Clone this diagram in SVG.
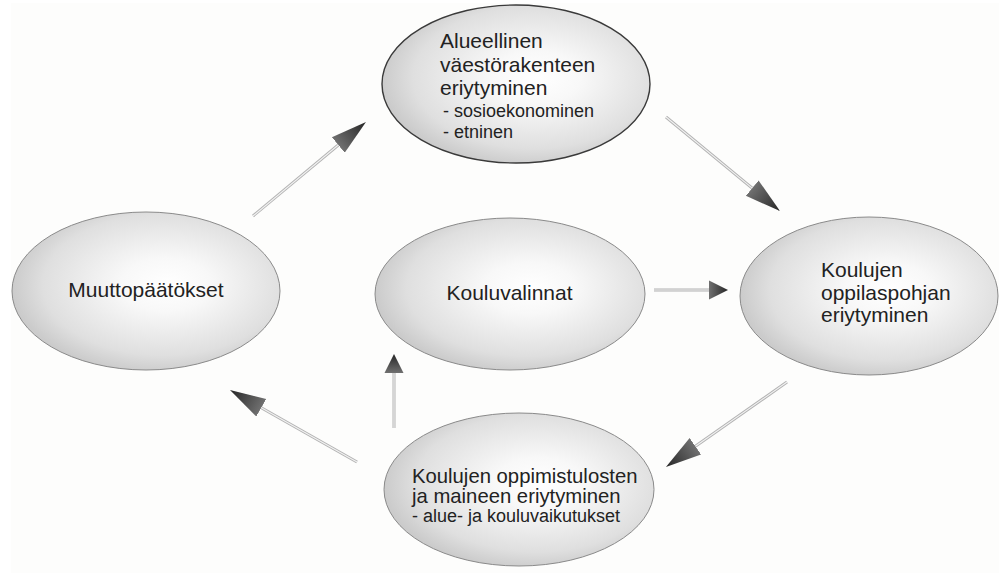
<svg xmlns="http://www.w3.org/2000/svg" width="999" height="573" viewBox="0 0 999 573">
<defs>
<radialGradient id="g" cx="0.56" cy="0.46" r="0.56" fx="0.58" fy="0.46">
<stop offset="0" stop-color="#ffffff"/>
<stop offset="0.3" stop-color="#f8f8f8"/>
<stop offset="0.8" stop-color="#dfdfdf"/>
<stop offset="1" stop-color="#cbcbcb"/>
</radialGradient>
<linearGradient id="hg" x1="0" y1="0" x2="1" y2="0">
<stop offset="0" stop-color="#707070"/>
<stop offset="1" stop-color="#262626"/>
</linearGradient>
<marker id="ahL" markerUnits="userSpaceOnUse" viewBox="0 -11 36 22" markerWidth="36" markerHeight="22" refX="0" refY="0" orient="auto">
<path d="M0,-10 L36,0 L0,10 Z" fill="url(#hg)"/>
</marker>
<marker id="ahS" markerUnits="userSpaceOnUse" viewBox="0 -10 20 20" markerWidth="20" markerHeight="20" refX="0" refY="0" orient="auto">
<path d="M0,-9.5 L19,0 L0,9.5 Z" fill="url(#hg)"/>
</marker>
<style>
.node ellipse{fill:url(#g);stroke:#8a8a8a;stroke-width:1}
#n1 ellipse{stroke:#3a3a3a;stroke-width:1.4}
text{font-family:"Liberation Sans",Arial,sans-serif;fill:#222}
.t{font-size:21px}
.s{font-size:18px}
.o{stroke:#b2b2b2;stroke-width:3;fill:none}
.i{stroke:#f2f2f2;stroke-width:1.1;fill:none}
</style>
</defs>
<rect x="0" y="0" width="999" height="573" fill="#ffffff"/>
<rect x="11" y="3" width="988" height="570" fill="#fdfdfc"/>

<g id="n1" class="node">
<ellipse cx="516" cy="84" rx="134" ry="79"/>
<text class="t" x="440" y="48">Alueellinen</text>
<text class="t" x="440" y="72">väestörakenteen</text>
<text class="t" x="440" y="95">eriytyminen</text>
<text class="s" x="443" y="117">- sosioekonominen</text>
<text class="s" x="443" y="138">- etninen</text>
</g>

<g id="n2" class="node">
<ellipse cx="869" cy="296" rx="129" ry="79"/>
<text class="t" x="821" y="277">Koulujen</text>
<text class="t" x="821" y="300">oppilaspohjan</text>
<text class="t" x="821" y="322">eriytyminen</text>
</g>

<g id="n3" class="node">
<ellipse cx="519" cy="489.5" rx="135" ry="76.5"/>
<text x="412" y="483" font-size="20.3">Koulujen oppimistulosten</text>
<text x="412" y="503" font-size="20.3">ja maineen eriytyminen</text>
<text class="s" x="412" y="522">- alue- ja kouluvaikutukset</text>
</g>

<g id="n4" class="node">
<ellipse cx="146" cy="291" rx="134" ry="79"/>
<text class="t" x="146" y="297" text-anchor="middle">Muuttopäätökset</text>
</g>

<g id="n5" class="node">
<ellipse cx="510" cy="294" rx="135" ry="76"/>
<text class="t" x="509.5" y="300" text-anchor="middle">Kouluvalinnat</text>
</g>

<g id="connectors">
<line class="o" x1="253" y1="216" x2="338.3" y2="145" marker-end="url(#ahL)"/>
<line class="i" x1="253" y1="216" x2="338.3" y2="145"/>
<line class="o" x1="666" y1="117" x2="752.2" y2="188.1" marker-end="url(#ahL)"/>
<line class="i" x1="666" y1="117" x2="752.2" y2="188.1"/>
<line class="o" x1="654" y1="290" x2="709" y2="290" marker-end="url(#ahS)"/>
<line class="i" x1="654" y1="290" x2="709" y2="290"/>
<line class="o" x1="787" y1="382" x2="695.4" y2="446.3" marker-end="url(#ahL)"/>
<line class="i" x1="787" y1="382" x2="695.4" y2="446.3"/>
<line class="o" x1="394" y1="428" x2="394" y2="373" marker-end="url(#ahS)"/>
<line class="i" x1="394" y1="428" x2="394" y2="373"/>
<line class="o" x1="357" y1="462" x2="261.3" y2="407.8" marker-end="url(#ahL)"/>
<line class="i" x1="357" y1="462" x2="261.3" y2="407.8"/>
</g>
</svg>
